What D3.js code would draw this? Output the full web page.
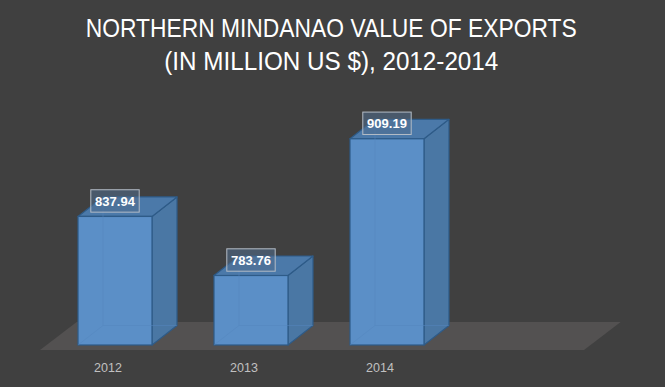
<!DOCTYPE html>
<html>
<head>
<meta charset="utf-8">
<script src="https://cdn.jsdelivr.net/npm/d3@7"></script>
<style>
html,body{margin:0;padding:0;background:#404040;}
svg{display:block;}
</style>
</head>
<body>
<svg id="chart" width="665" height="387"></svg>
<script>
const years = ["2012", "2013", "2014"];
const exportValues = [837.94, 783.76, 909.19];
const valueLabels = ["837.94", "783.76", "909.19"];
const titleLines = ["NORTHERN MINDANAO VALUE OF EXPORTS", "(IN MILLION US $), 2012-2014"];

const W = 665, H = 387;
const svg = d3.select("#chart");
svg.append("rect").attr("width", W).attr("height", H).attr("fill", "#404040");

const x = d3.scaleBand().domain(years).range([16, 486]).paddingInner(0.456).paddingOuter(0.456);
const y = d3.scaleLinear().domain([720, 940]).range([345, 105.2]);
const depthX = 25, depthY = -19.5;

// floor
const floorFront = 350, floorBack = 322;
const floorSlope = 36.7 / 28;
const fl = 40, fr = 584;
svg.append("path")
  .attr("d", `M${fl},${floorFront} L${fr},${floorFront} L${fr + (floorFront - floorBack) * floorSlope},${floorBack} L${fl + (floorFront - floorBack) * floorSlope},${floorBack} Z`)
  .attr("fill", "#535151");

const bars = svg.append("g");
years.forEach((yr, i) => {
  const x0 = x(yr), bw = x.bandwidth();
  const x1 = x0 + bw;
  const yt = y(exportValues[i]), yb = y(720);
  const g = bars.append("g");
  // side face
  g.append("path")
    .attr("d", `M${x1},${yt} L${x1 + depthX},${yt + depthY} L${x1 + depthX},${yb + depthY} L${x1},${yb} Z`)
    .attr("fill", "#4a77a4").attr("stroke", "#2e5b88").attr("stroke-width", 1.2).attr("stroke-linejoin", "round");
  // top face
  g.append("path")
    .attr("d", `M${x0},${yt} L${x0 + depthX},${yt + depthY} L${x1 + depthX},${yt + depthY} L${x1},${yt} Z`)
    .attr("fill", "#4b79a9").attr("stroke", "#2e5b88").attr("stroke-width", 1.2).attr("stroke-linejoin", "round");
  // front face
  g.append("rect")
    .attr("x", x0).attr("y", yt).attr("width", bw).attr("height", yb - yt)
    .attr("fill", "#5b8fc7").attr("stroke", "#2e5b88").attr("stroke-width", 1.2);
  // faint hidden edges
  g.append("path")
    .attr("d", `M${x0 + depthX},${yt + depthY} L${x0 + depthX},${yb + depthY} L${x1 + depthX},${yb + depthY}`)
    .attr("fill", "none").attr("stroke", "#5386bd").attr("stroke-width", 1).attr("opacity", 0.5);
  g.append("path")
    .attr("d", `M${x0},${yb} L${x0 + depthX},${yb + depthY}`)
    .attr("fill", "none").attr("stroke", "#5386bd").attr("stroke-width", 1).attr("opacity", 0.5);

  // value label box
  const cx = x0 + bw / 2, cy = yt - 15.5;
  const bwid = 48.4, bht = 22.4;
  g.append("rect")
    .attr("x", cx - bwid / 2).attr("y", cy - bht / 2).attr("width", bwid).attr("height", bht)
    .attr("fill", "#506e8e").attr("fill-opacity", 0.55)
    .attr("stroke", "#b4bcc6").attr("stroke-width", 1);
  g.append("text")
    .attr("x", cx).attr("y", cy + 4.6)
    .attr("text-anchor", "middle")
    .attr("font-family", "Liberation Sans, Arial, sans-serif")
    .attr("font-weight", "bold").attr("font-size", 13)
    .attr("fill", "#ffffff")
    .text(valueLabels[i]);

  // category label
  svg.append("text")
    .attr("x", cx - 7).attr("y", 371.5)
    .attr("text-anchor", "middle")
    .attr("font-family", "Liberation Sans, Arial, sans-serif")
    .attr("font-size", 12.5)
    .attr("fill", "#c0c0c0")
    .text(yr);
});

// title
const titleWidths = [491, 334];
const titleBase = [36.7, 70.3];
const titleCx = [331.2, 331.3];
titleLines.forEach((t, i) => {
  svg.append("text")
    .attr("x", titleCx[i]).attr("y", titleBase[i])
    .attr("text-anchor", "middle")
    .attr("font-family", "Liberation Sans, Arial, sans-serif")
    .attr("font-size", 25)
    .attr("fill", "#ffffff")
    .attr("textLength", titleWidths[i])
    .attr("lengthAdjust", "spacingAndGlyphs")
    .text(t);
});
</script>
</body>
</html>
